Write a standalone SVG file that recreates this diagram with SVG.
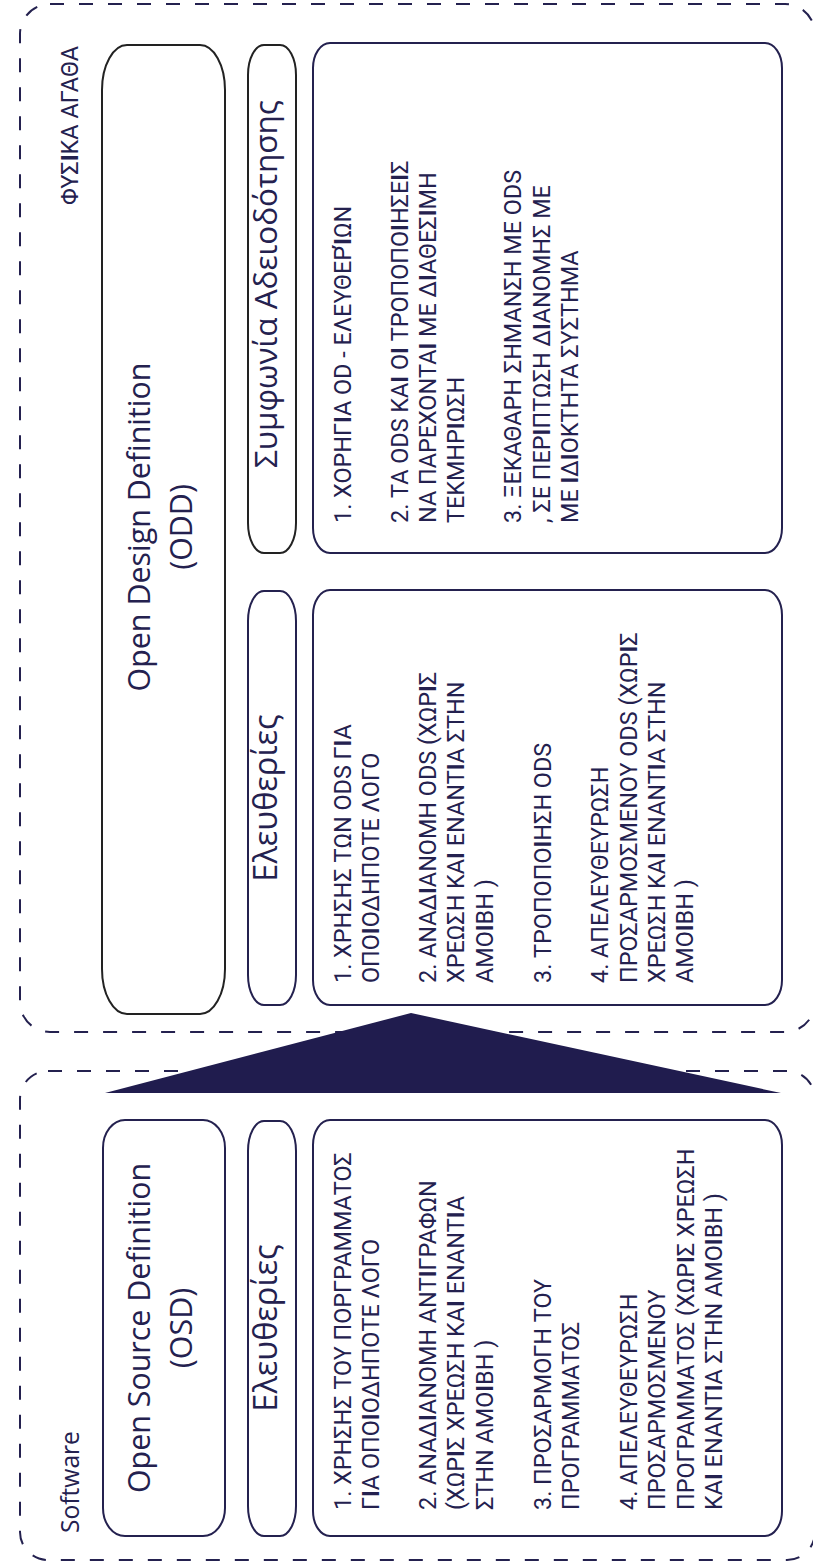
<svg xmlns="http://www.w3.org/2000/svg" width="813" height="1564" viewBox="0 0 813 1564">
<style>
.dash{fill:none;stroke:#24214f;stroke-width:2;stroke-dasharray:14 15}
.box{fill:#fff;stroke:#24214f;stroke-width:2}
.boxd{fill:#fff;stroke:#222;stroke-width:2}
.title{font-family:"Open Sans","Noto Sans",sans-serif;font-weight:400;fill:#24214f;text-anchor:middle}
.lbl{font-family:"Open Sans","Noto Sans",sans-serif;font-weight:400;fill:#24214f}
.list{font-family:Roboto,"Liberation Sans",sans-serif;font-size:23.4px;fill:#24214f}
.b{font-weight:700}
</style>
<rect width="813" height="1564" fill="#fff"/>
<g id="physical-goods">
<rect class="dash" x="20" y="4" width="795" height="1028" rx="30" ry="30"/>
<text class="list" style="font-size:23.5px" text-anchor="end" transform="translate(0,46) rotate(-90)" x="0" y="78">ΦΥΣ<tspan class="b">Ι</tspan>ΚΑ ΑΓΑΘΑ</text>
</g>
<g id="software">
<rect class="dash" x="20" y="1071" width="795" height="489" rx="28" ry="28"/>
<text class="lbl" font-size="24.6" transform="translate(0,1533) rotate(-90)" x="0" y="79">Software</text>
</g>
<g id="odd">
<rect class="boxd" x="102" y="45" width="123" height="969" rx="25" ry="45"/>
<text class="title" font-size="30.4" transform="translate(0,527) rotate(-90)"><tspan x="0" y="150">Open Design Definition</tspan><tspan x="0" y="191.5">(ODD)</tspan></text>
</g>
<g id="odd-license-title">
<rect class="boxd" x="248" y="45" width="48" height="508" rx="16" ry="30"/>
<text class="title" font-size="31.5" transform="translate(0,284) rotate(-90)" x="0" y="277">Συμφωνία Αδειοδότησης</text>
</g>
<g id="odd-freedoms-title">
<rect class="box" x="248" y="591" width="48" height="414" rx="16" ry="30"/>
<text class="title" font-size="32.5" transform="translate(0,798) rotate(-90)" x="0" y="277">Ελευθερίες</text>
</g>
<g id="odd-license-list">
<rect class="box" x="313" y="43" width="469" height="510" rx="17" ry="25"/>
<g class="list" transform="translate(0,523) rotate(-90)">
<text x="0" y="350.7">1. ΧΟΡΗΓ<tspan class="b">Ι</tspan>Α OD - ΕΛΕΥΘΕΡ<tspan class="b">Ί</tspan>ΩΝ</text>
<text x="0" y="407.5">2. ΤΑ ODS ΚΑ<tspan class="b">Ι</tspan> Ο<tspan class="b">Ι</tspan> ΤΡΟΠΟΠΟ<tspan class="b">Ι</tspan>ΗΣΕ<tspan class="b">Ι</tspan>Σ</text>
<text x="0" y="436">ΝΑ ΠΑΡΕΧΟΝΤΑ<tspan class="b">Ι</tspan> ΜΕ Δ<tspan class="b">Ι</tspan>ΑΘΕΣ<tspan class="b">Ι</tspan>ΜΗ</text>
<text x="0" y="464.4">ΤΕΚΜΗΡ<tspan class="b">Ι</tspan>ΩΣΗ</text>
<text x="0" y="521.3">3. ΞΕΚΑΘΑΡΗ ΣΗΜΑΝΣΗ ΜΕ ODS</text>
<text x="0" y="549.7">, ΣΕ ΠΕΡ<tspan class="b">Ι</tspan>ΠΤΩΣΗ Δ<tspan class="b">Ι</tspan>ΑΝΟΜΗΣ ΜΕ</text>
<text x="0" y="578.1">ΜΕ <tspan class="b">Ι</tspan>Δ<tspan class="b">Ι</tspan>ΟΚΤΗΤΑ ΣΥΣΤΗΜΑ</text>
</g>
</g>
<g id="odd-freedoms-list">
<rect class="box" x="313" y="590" width="469" height="415" rx="17" ry="25"/>
<g class="list" transform="translate(0,983) rotate(-90)">
<text x="0" y="350.7">1. ΧΡΗΣΗΣ ΤΩΝ ODS Γ<tspan class="b">Ι</tspan>Α</text>
<text x="0" y="379.1">ΟΠΟ<tspan class="b">Ι</tspan>ΟΔΗΠΟΤΕ ΛΟΓΟ</text>
<text x="0" y="436">2. ΑΝΑΔ<tspan class="b">Ι</tspan>ΑΝΟΜΗ ODS (ΧΩΡ<tspan class="b">Ι</tspan>Σ</text>
<text x="0" y="464.4">ΧΡΕΩΣΗ ΚΑ<tspan class="b">Ι</tspan> ΕΝΑΝΤ<tspan class="b">Ι</tspan>Α ΣΤΗΝ</text>
<text x="0" y="492.8">ΑΜΟ<tspan class="b">Ι</tspan>ΒΗ )</text>
<text x="0" y="550.7">3. ΤΡΟΠΟΠΟ<tspan class="b">Ι</tspan>ΗΣΗ ODS</text>
<text x="0" y="608">4. ΑΠΕΛΕΥΘΕΥΡΩΣΗ</text>
<text x="0" y="636.5">ΠΡΟΣΑΡΜΟΣΜΕΝΟΥ ODS (ΧΩΡ<tspan class="b">Ι</tspan>Σ</text>
<text x="0" y="664.9">ΧΡΕΩΣΗ ΚΑ<tspan class="b">Ι</tspan> ΕΝΑΝΤ<tspan class="b">Ι</tspan>Α ΣΤΗΝ</text>
<text x="0" y="693.3">ΑΜΟ<tspan class="b">Ι</tspan>ΒΗ )</text>
</g>
</g>
<g id="osd">
<rect class="box" x="103" y="1120" width="122" height="416" rx="22" ry="28"/>
<text class="title" font-size="30.4" transform="translate(0,1328) rotate(-90)"><tspan x="0" y="150">Open Source Definition</tspan><tspan x="0" y="191.5">(OSD)</tspan></text>
</g>
<g id="osd-freedoms-title">
<rect class="box" x="248" y="1121" width="48" height="415" rx="16" ry="30"/>
<text class="title" font-size="32.5" transform="translate(0,1328) rotate(-90)" x="0" y="277">Ελευθερίες</text>
</g>
<g id="osd-freedoms-list">
<rect class="box" x="313" y="1120" width="469" height="416" rx="17" ry="25"/>
<g class="list" transform="translate(0,1510) rotate(-90)">
<text x="0" y="350.7">1. ΧΡΗΣΗΣ ΤΟΥ ΠΟΡΓΡΑΜΜΑΤΟΣ</text>
<text x="0" y="379.1">Γ<tspan class="b">Ι</tspan>Α ΟΠΟ<tspan class="b">Ι</tspan>ΟΔΗΠΟΤΕ ΛΟΓΟ</text>
<text x="0" y="436">2. ΑΝΑΔ<tspan class="b">Ι</tspan>ΑΝΟΜΗ ΑΝΤ<tspan class="b">Ι</tspan>ΓΡΑΦΩΝ</text>
<text x="0" y="464.4">(ΧΩΡ<tspan class="b">Ι</tspan>Σ ΧΡΕΩΣΗ ΚΑ<tspan class="b">Ι</tspan> ΕΝΑΝΤ<tspan class="b">Ι</tspan>Α</text>
<text x="0" y="492.8">ΣΤΗΝ ΑΜΟ<tspan class="b">Ι</tspan>ΒΗ )</text>
<text x="0" y="550.7">3. ΠΡΟΣΑΡΜΟΓΗ ΤΟΥ</text>
<text x="0" y="579.1">ΠΡΟΓΡΑΜΜΑΤΟΣ</text>
<text x="0" y="637">4. ΑΠΕΛΕΥΘΕΥΡΩΣΗ</text>
<text x="0" y="665.4">ΠΡΟΣΑΡΜΟΣΜΕΝΟΥ</text>
<text x="0" y="693.8">ΠΡΟΓΡΑΜΜΑΤΟΣ (ΧΩΡ<tspan class="b">Ι</tspan>Σ ΧΡΕΩΣΗ</text>
<text x="0" y="722.2">ΚΑ<tspan class="b">Ι</tspan> ΕΝΑΝΤ<tspan class="b">Ι</tspan>Α ΣΤΗΝ ΑΜΟ<tspan class="b">Ι</tspan>ΒΗ )</text>
</g>
</g>
<g id="connectors">
<polygon points="105,1093 781,1093 411,1013" fill="#201c4e"/>
</g>
</svg>
